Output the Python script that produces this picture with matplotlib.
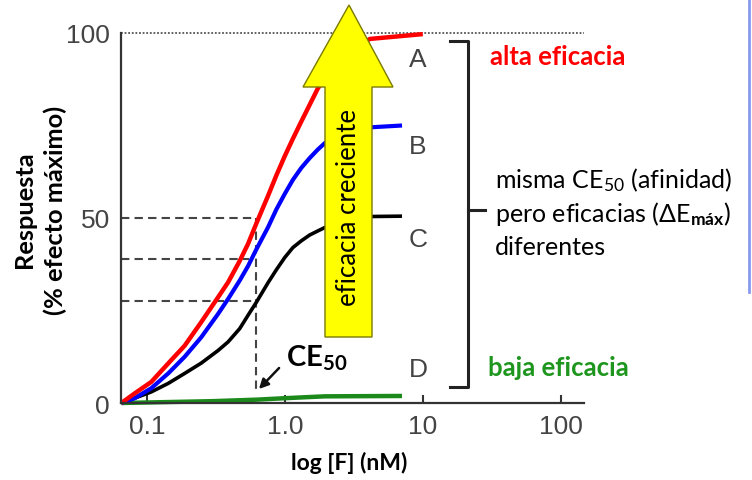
import matplotlib
matplotlib.use("Agg")
import matplotlib.pyplot as plt
from matplotlib.patches import Polygon, FancyArrowPatch
from matplotlib.lines import Line2D

plt.rcParams['font.family'] = ['Lato', 'DejaVu Sans']
plt.rcParams['mathtext.fontset'] = 'custom'
plt.rcParams['mathtext.rm'] = 'Lato'
plt.rcParams['mathtext.it'] = 'Lato:italic'
plt.rcParams['mathtext.bf'] = 'Lato:bold'

# curve values (concentration in nM, response in %)
conc_a = [0.0649, 0.0811, 0.107, 0.142, 0.187, 0.247, 0.327, 0.386, 0.469, 0.539, 0.619,
          0.753, 0.865, 0.995, 1.14, 1.31, 1.51, 1.73, 2.5, 4.14, 10.0]
resp_a = [0, 2.6, 5.7, 10.7, 15.5, 21.9, 28.6, 32.6, 38.4, 43.0, 48.5,
          56.0, 61.5, 66.7, 71.4, 76.0, 80.6, 85.0, 94.0, 98.4, 99.7]

conc_b = [0.0649, 0.0811, 0.107, 0.142, 0.187, 0.247, 0.327, 0.386, 0.469, 0.539, 0.619,
          0.753, 0.865, 0.995, 1.14, 1.31, 1.51, 1.73, 1.94, 2.5, 4.14, 7.07]
resp_b = [0, 1.3, 4.0, 8.0, 12.5, 17.8, 24.1, 28.1, 33.1, 37.0, 41.5,
          47.5, 52.3, 56.5, 60.3, 63.5, 66.2, 68.5, 70.2, 73.0, 74.5, 75.0]

conc_c = [0.0649, 0.0811, 0.107, 0.142, 0.187, 0.247, 0.327, 0.386, 0.469, 0.539, 0.619,
          0.753, 0.865, 0.995, 1.14, 1.31, 1.51, 1.73, 1.94, 2.5, 4.14, 7.07]
resp_c = [0, 1.3, 3.0, 5.3, 8.0, 10.8, 14.2, 16.5, 20.1, 23.7, 27.2,
          32.5, 36.0, 39.3, 42.0, 43.8, 45.4, 46.5, 47.4, 49.3, 50.4, 50.5]

conc_d = [0.0649, 0.3, 0.62, 1.0, 1.94, 7.07]
resp_d = [0, 0.5, 0.9, 1.3, 1.8, 1.9]

ec50 = 0.62
half_levels = [50, 39, 27.6]
half_ends = [0.62, 0.55, 0.62]

xticks = [0.1, 1, 10, 100]
xtick_labels = ['0.1', '1.0', '10', '100']
yticks = [0, 50, 100]
curve_letters = ['A', 'B', 'C', 'D']

W, H = 752, 481
fig = plt.figure(figsize=(W / 100, H / 100), dpi=100)


def fx(px):
    return px / W


def fy(py):
    return 1 - py / H


ax = fig.add_axes([fx(121), fy(404), (584 - 121) / W, 370 / H])
ax.set_xscale('log')
ax.set_xlim(0.0645, 148)
ax.set_ylim(0, 100)

# reference lines
ax.axhline(100, color='#555555', lw=1.3, ls=(0, (1, 1)), clip_on=False)
for lev, xe in zip(half_levels, half_ends):
    ax.plot([0.0645, xe], [lev, lev], color='#444444', lw=1.5, ls=(0, (4, 2.5)))
ax.plot([ec50, ec50], [50, 3], color='#444444', lw=1.5, ls=(0, (4, 2.5)))

style = dict(clip_on=False, solid_capstyle='butt', solid_joinstyle='round')
ax.plot(conc_d, resp_d, color='#1b8a1b', lw=3.2, **style)
ax.plot(conc_c, resp_c, color='black', lw=2.6, **style)
ax.plot(conc_b, resp_b, color='blue', lw=3.0, **style)
ax.plot(conc_a, resp_a, color='red', lw=3.2, **style)

for side in ['top', 'right']:
    ax.spines[side].set_visible(False)
for side in ['left', 'bottom']:
    ax.spines[side].set_color('#333333')
    ax.spines[side].set_linewidth(1.6)

ax.set_xticks(xticks)
ax.set_xticklabels(xtick_labels)
ax.xaxis.set_minor_locator(matplotlib.ticker.NullLocator())
ax.set_yticks(yticks)
ax.tick_params(axis='x', direction='in', length=6, width=1.5, color='#333333', pad=8)
ax.tick_params(axis='y', length=0, pad=8)
for lab in ax.get_xticklabels() + ax.get_yticklabels():
    lab.set_fontfamily('Liberation Sans')
    lab.set_fontsize(19)
    lab.set_color('#444444')

# axis titles
fig.text(fx(25), fy(210), 'Respuesta', rotation=90, ha='center', va='center',
         fontsize=18.3, fontweight='bold')
fig.text(fx(55), fy(210), '(% efecto máximo)', rotation=90, ha='center', va='center',
         fontsize=18.3, fontweight='bold')
fig.text(fx(349), fy(463), 'log [F] (nM)', ha='center', va='center',
         fontsize=16.5, fontweight='bold')

# yellow arrow
arrow_px = [(325, 338), (372, 338), (372, 88), (393, 88), (349, 6), (303, 88), (325, 88)]
arrow = Polygon([(fx(a), fy(b)) for a, b in arrow_px], closed=True,
                transform=fig.transFigure, facecolor='#ffff00', edgecolor='#7a7a00',
                lw=1.0, zorder=2)
fig.add_artist(arrow)
fig.text(fx(349), fy(207), 'eficacia creciente', rotation=90, ha='center', va='center',
         fontsize=18.5, zorder=3)

# curve letters
for letter, py in zip(curve_letters, [60, 147, 240, 370]):
    fig.text(fx(418), fy(py), letter, ha='center', va='center', fontsize=19,
             family='Liberation Sans', color='#444444')

# bracket
bx = 468
fig.add_artist(Line2D([fx(450), fx(bx), fx(bx), fx(450)], [fy(42), fy(42), fy(388), fy(388)],
                      transform=fig.transFigure, color='#222222', lw=2.2))
fig.add_artist(Line2D([fx(bx), fx(485)], [fy(211), fy(211)],
                      transform=fig.transFigure, color='#222222', lw=2.2))

# CE50 label and arrow
fig.text(fx(286), fy(367), r'CE$_{\mathbf{50}}$', ha='left', va='baseline',
         fontsize=21, fontweight='bold')
fig.add_artist(FancyArrowPatch((fx(281), fy(367)), (fx(257), fy(392)),
                               transform=fig.transFigure, arrowstyle='-|>',
                               mutation_scale=14, color='#111111', lw=1.8))

# right-hand labels
fig.text(fx(490), fy(57), 'alta eficacia', ha='left', va='center', fontsize=18.5,
         fontweight='bold', color='#ff0000')
fig.text(fx(488), fy(368), 'baja eficacia', ha='left', va='center', fontsize=18.5,
         fontweight='bold', color='#1e961e')
fig.text(fx(495), fy(188), r'misma CE$_{50}$ (afinidad)', ha='left', va='baseline',
         fontsize=18)
fig.text(fx(495), fy(222), r'pero eficacias ($\Delta$E$_{\mathbf{máx}}$)', ha='left',
         va='baseline', fontsize=18)
fig.text(fx(495), fy(255), 'diferentes', ha='left', va='baseline', fontsize=18)

# slide edge line on the far right
fig.add_artist(Line2D([fx(749), fx(749)], [fy(0), fy(293)], transform=fig.transFigure,
                      color='#8899ee', lw=2))

fig.savefig('out.png', dpi=100)
